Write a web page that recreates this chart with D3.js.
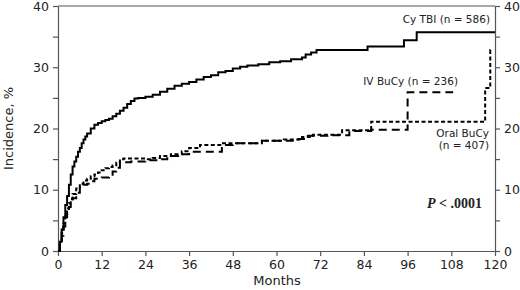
<!DOCTYPE html>
<html>
<head>
<meta charset="utf-8">
<script src="https://cdn.jsdelivr.net/npm/d3@7"></script>
<style>
  body { margin: 0; background: #fff; }
  svg { display: block; }
  text { font-family: "DejaVu Sans", Verdana, sans-serif; fill: #222; }
</style>
</head>
<body>
<svg id="chart" width="520" height="290"></svg>
<script>
// months, cumulative incidence (%)
const cyTbi = [
  [0,0],[0.5,1.5],[1,3.5],[1.5,5.5],[2,7.5],[2.5,9],[3,10.8],[3.5,12.5],[4,13.8],
  [4.5,14.6],[5,15.4],[5.5,16.2],[6,16.8],[6.5,17.6],[7,18.2],[7.5,18.7],[8,19.2],
  [9,20],[10,20.6],[11,20.9],[12,21.2],[13,21.4],[14,21.6],[15,22],[16,22.4],[17,22.9],
  [18,23.4],[19,24],[20,24.5],[21,24.9],[22,25],[24,25.2],[26,25.5],[28,26],[30,26.5],
  [32,27],[34,27.3],[36,27.6],[38,28],[40,28.4],[42,28.7],[44,29.2],[46,29.4],[48,29.8],
  [50,30.1],[52,30.3],[55,30.5],[58,30.8],[61,31],[64,31.3],[67,31.6],[68,32.1],
  [69.5,32.4],[71,32.8],[85,33.4],[95,34.4],[98.5,35.7],[120,35.7]
]
const ivBucy = [
  [0,0],[0.5,1],[1,2.5],[1.5,4],[2,5.5],[2.5,6.5],[3,7.2],[3.5,8],[4,8.6],[5,9.5],
  [6,10.5],[7,10.8],[8,11],[9,11.4],[10,11.8],[12,12],[14,12.3],[15,13],[16,13.6],
  [17,14.5],[20,14.6],[24,14.8],[27,15],[30,15.5],[33,15.8],[36,16.2],[45,17.3],
  [48,17.6],[56,18],[66,18.3],[68,18.8],[74,18.9],[80,19.6],[86,19.8],[96,25.9],[108.5,25.9]
]
const oralBucy = [
  [0,0],[0.5,1.5],[1,3],[1.5,4.5],[2,6],[2.5,7],[3,7.8],[3.5,8.5],[4,9.3],[5,10.2],
  [6,11],[7,11.5],[8,11.8],[9,12.2],[10,12.5],[11,12.8],[12,13.2],[13,13.5],[14,13.7],
  [15,14],[16,14.4],[17,15],[18,15.1],[24,15],[26,15.2],[28,15.5],[31,15.8],[34,16.3],
  [36,16.8],[39,17.3],[45,17.6],[56,18],[62,18.2],[67,18.6],[70,19],[78,19.7],[86,21.1],
  [117.3,26.6],[118.7,32.8],[119.3,32.8]
]
const xTicks = [0, 12, 24, 36, 48, 60, 72, 84, 96, 108, 120]
const yTicks = [0, 10, 20, 30, 40]
const yMinor = [5, 15, 25, 35]

const svg = d3.select("#chart")
const m = {left: 58, right: 25, top: 6, bottom: 39}
const W = 520, H = 290

const x = d3.scaleLinear().domain([0, 120]).range([m.left, W - m.right])
const y = d3.scaleLinear().domain([0, 40]).range([H - m.bottom, m.top])

const axisColor = "#555"

// frame top line
svg.append("line")
  .attr("x1", x(0)).attr("x2", x(120)).attr("y1", y(40)).attr("y2", y(40))
  .attr("stroke", axisColor).attr("stroke-width", 1.2)

// axes
function styleAxis(g){
  g.selectAll(".domain").attr("stroke", axisColor).attr("stroke-width", 1.2)
  g.selectAll(".tick line").attr("stroke", axisColor).attr("stroke-width", 1.2)
  g.selectAll(".tick text").attr("font-size", 12.5).attr("fill", "#222")
    .attr("font-family", "DejaVu Sans, sans-serif")
}

svg.append("g").attr("transform", `translate(0,${y(0)})`)
  .call(d3.axisBottom(x).tickValues(xTicks).tickSize(5).tickSizeOuter(0).tickPadding(4))
  .call(styleAxis)

svg.append("g").attr("transform", `translate(${x(0)},0)`)
  .call(d3.axisLeft(y).tickValues(yTicks).tickSize(5).tickSizeOuter(0).tickPadding(4))
  .call(styleAxis)
svg.append("g").attr("transform", `translate(${x(0)},0)`)
  .call(d3.axisLeft(y).tickValues(yMinor).tickSize(5).tickFormat("").tickSizeOuter(0))
  .call(styleAxis).select(".domain").remove()

svg.append("g").attr("transform", `translate(${x(120)},0)`)
  .call(d3.axisRight(y).tickValues(yTicks).tickSize(5).tickSizeOuter(0).tickPadding(4))
  .call(styleAxis)
svg.append("g").attr("transform", `translate(${x(120)},0)`)
  .call(d3.axisRight(y).tickValues(yMinor).tickSize(5).tickFormat("").tickSizeOuter(0))
  .call(styleAxis).select(".domain").remove()

// curves
const line = d3.line().x(d => x(d[0])).y(d => y(d[1])).curve(d3.curveStepAfter)

svg.append("path").datum(cyTbi).attr("d", line)
  .attr("fill", "none").attr("stroke", "#000").attr("stroke-width", 2)
svg.append("path").datum(ivBucy).attr("d", line)
  .attr("fill", "none").attr("stroke", "#000").attr("stroke-width", 2)
  .attr("stroke-dasharray", "8,5")
svg.append("path").datum(oralBucy).attr("d", line)
  .attr("fill", "none").attr("stroke", "#000").attr("stroke-width", 2)
  .attr("stroke-dasharray", "4,2.5")

// labels
const lab = svg.append("g").attr("font-size", 10.5)
lab.append("text").attr("x", 490).attr("y", 23).attr("text-anchor", "end").text("Cy TBI (n = 586)")
lab.append("text").attr("x", 458).attr("y", 85).attr("text-anchor", "end").text("IV BuCy (n = 236)")
lab.append("text").attr("x", 489).attr("y", 137).attr("text-anchor", "end").text("Oral BuCy")
lab.append("text").attr("x", 489).attr("y", 149).attr("text-anchor", "end").text("(n = 407)")

const p = svg.append("text").attr("x", 482).attr("y", 208).attr("text-anchor", "end")
  .attr("font-weight", "bold").attr("font-size", 14).style("font-family", "Liberation Serif, serif")
p.append("tspan").attr("font-style", "italic").text("P")
p.append("tspan").text(" < .0001")

// axis titles
svg.append("text").attr("x", 277).attr("y", 285).attr("text-anchor", "middle")
  .attr("font-size", 13).text("Months")
svg.append("text").attr("transform", `translate(13,${y(20)}) rotate(-90)`)
  .attr("text-anchor", "middle").attr("font-size", 13).text("Incidence, %")
</script>
</body>
</html>
